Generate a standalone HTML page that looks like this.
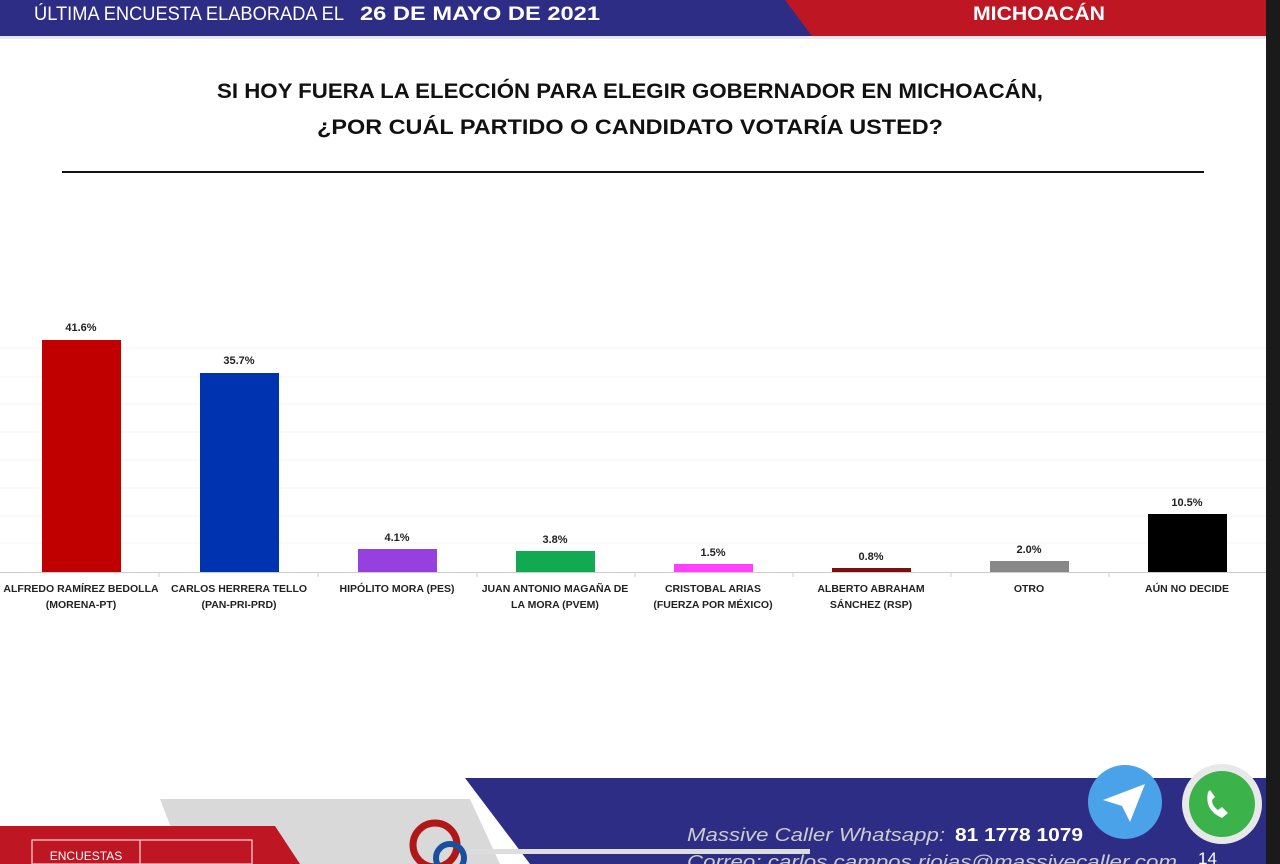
<!DOCTYPE html>
<html><head><meta charset="utf-8"><style>
body{margin:0;width:1280px;height:864px;overflow:hidden;background:#fff;font-family:"Liberation Sans",sans-serif;position:relative}
.abs{position:absolute}
</style></head><body>
<svg class="abs" style="left:0;top:0" width="1280" height="864" viewBox="0 0 1280 864">
<polygon points="0,0 812,0 838,36 0,36" fill="#2e2d86"/>
<polygon points="785,0 1266,0 1266,36 812,36" fill="#be1622"/>
<rect x="0" y="36" width="1266" height="3" fill="#e8e8ee"/>
<g font-family="Liberation Sans, sans-serif">
<text x="34" y="20" fill="#fff" font-size="19" textLength="310" lengthAdjust="spacingAndGlyphs">ÚLTIMA ENCUESTA ELABORADA EL</text>
<text x="360" y="20" fill="#fff" font-size="19" font-weight="bold" textLength="240" lengthAdjust="spacingAndGlyphs">26 DE MAYO DE 2021</text>
<text x="973" y="20" fill="#fff" font-size="19" font-weight="bold" textLength="132" lengthAdjust="spacingAndGlyphs">MICHOACÁN</text>
<text x="630" y="98" text-anchor="middle" font-size="21" font-weight="bold" fill="#111" textLength="826" lengthAdjust="spacingAndGlyphs">SI HOY FUERA LA ELECCIÓN PARA ELEGIR GOBERNADOR EN MICHOACÁN,</text>
<text x="630" y="134" text-anchor="middle" font-size="21" font-weight="bold" fill="#111" textLength="626" lengthAdjust="spacingAndGlyphs">¿POR CUÁL PARTIDO O CANDIDATO VOTARÍA USTED?</text>
</g>
<rect x="62" y="171" width="1142" height="2" fill="#111"/>
<g stroke="#f5f5f5" stroke-width="1">
<line x1="0" y1="348" x2="1266" y2="348"/><line x1="0" y1="377" x2="1266" y2="377"/><line x1="0" y1="404" x2="1266" y2="404"/><line x1="0" y1="432" x2="1266" y2="432"/><line x1="0" y1="460" x2="1266" y2="460"/><line x1="0" y1="488" x2="1266" y2="488"/><line x1="0" y1="516" x2="1266" y2="516"/><line x1="0" y1="543" x2="1266" y2="543"/>
</g>
<rect x="42" y="340" width="79" height="232" fill="#c00000"/>
<rect x="200" y="373" width="79" height="199" fill="#0033b0"/>
<rect x="358" y="549" width="79" height="23" fill="#9640e0"/>
<rect x="516" y="551" width="79" height="21" fill="#12aa50"/>
<rect x="674" y="564" width="79" height="8" fill="#ff40ff"/>
<rect x="832" y="568" width="79" height="4" fill="#7a1010"/>
<rect x="990" y="561" width="79" height="11" fill="#888"/>
<rect x="1148" y="514" width="79" height="58" fill="#000"/>
<line x1="0" y1="572.5" x2="1266" y2="572.5" stroke="#ccc"/>
<g stroke="#ccc"><line x1="159" y1="572" x2="159" y2="577"/><line x1="318" y1="572" x2="318" y2="577"/><line x1="477" y1="572" x2="477" y2="577"/><line x1="635" y1="572" x2="635" y2="577"/><line x1="793" y1="572" x2="793" y2="577"/><line x1="951" y1="572" x2="951" y2="577"/><line x1="1109" y1="572" x2="1109" y2="577"/></g>
<g font-family="Liberation Sans, sans-serif" font-size="11" font-weight="bold" fill="#222" text-anchor="middle">
<text x="81" y="331">41.6%</text><text x="239" y="364">35.7%</text><text x="397" y="541">4.1%</text><text x="555" y="543">3.8%</text><text x="713" y="556">1.5%</text><text x="871" y="560">0.8%</text><text x="1029" y="553">2.0%</text><text x="1187" y="506">10.5%</text>
<g font-size="10.5">
<text x="81" y="592">ALFREDO RAMÍREZ BEDOLLA</text><text x="81" y="608">(MORENA-PT)</text>
<text x="239" y="592">CARLOS HERRERA TELLO</text><text x="239" y="608">(PAN-PRI-PRD)</text>
<text x="397" y="592">HIPÓLITO MORA (PES)</text>
<text x="555" y="592">JUAN ANTONIO MAGAÑA DE</text><text x="555" y="608">LA MORA (PVEM)</text>
<text x="713" y="592">CRISTOBAL ARIAS</text><text x="713" y="608">(FUERZA POR MÉXICO)</text>
<text x="871" y="592">ALBERTO ABRAHAM</text><text x="871" y="608">SÁNCHEZ (RSP)</text>
<text x="1029" y="592">OTRO</text>
<text x="1187" y="592">AÚN NO DECIDE</text>
</g></g>
<polygon points="160,799 470,799 500,864 185,864" fill="#d9d9d9"/>
<polygon points="0,826 275,826 300,864 0,864" fill="#be1622"/>
<rect x="32" y="840" width="108" height="24" fill="none" stroke="#fff"/>
<rect x="140" y="840" width="112" height="24" fill="none" stroke="#fff"/>
<text x="86" y="860" fill="#fff" font-size="12" text-anchor="middle" font-family="Liberation Sans, sans-serif">ENCUESTAS</text>
<polygon points="465,778 1266,778 1266,864 530,864" fill="#2e2d86"/>
<rect x="470" y="849" width="340" height="5" fill="#ddd"/>
<circle cx="435" cy="845" r="22" fill="none" stroke="#b01818" stroke-width="7"/>
<circle cx="450" cy="858" r="14" fill="none" stroke="#1a4fa0" stroke-width="6"/>
<text x="687" y="841" fill="#ccc" font-size="18" font-style="italic" font-family="Liberation Sans, sans-serif" textLength="258" lengthAdjust="spacingAndGlyphs">Massive Caller Whatsapp:</text>
<text x="955" y="841" fill="#fff" font-size="18" font-weight="bold" font-family="Liberation Sans, sans-serif" textLength="128" lengthAdjust="spacingAndGlyphs">81 1778 1079</text>
<text x="687" y="868" fill="#ccc" font-size="18" font-style="italic" font-family="Liberation Sans, sans-serif" textLength="490" lengthAdjust="spacingAndGlyphs">Correo: carlos.campos.rioias@massivecaller.com</text>
<text x="1198" y="864" fill="#fff" font-size="17" font-family="Liberation Sans, sans-serif">14</text>
<circle cx="1125" cy="802" r="37" fill="#4aa3e8"/>
<polygon points="1103,800 1145,784 1130,822 1122,806" fill="#fff"/>
<circle cx="1222" cy="804" r="40" fill="#e8e8e8"/>
<circle cx="1222" cy="804" r="33" fill="#3bb34a"/>
<path d="M1208,792 q-4,18 14,26 l6,-5 l-6,-6 l-4,3 q-6,-4 -6,-10 l3,-3 l-5,-7z" fill="#fff"/>
<rect x="1266" y="0" width="14" height="864" fill="#1a1a1a"/>
</svg>
</body></html>
